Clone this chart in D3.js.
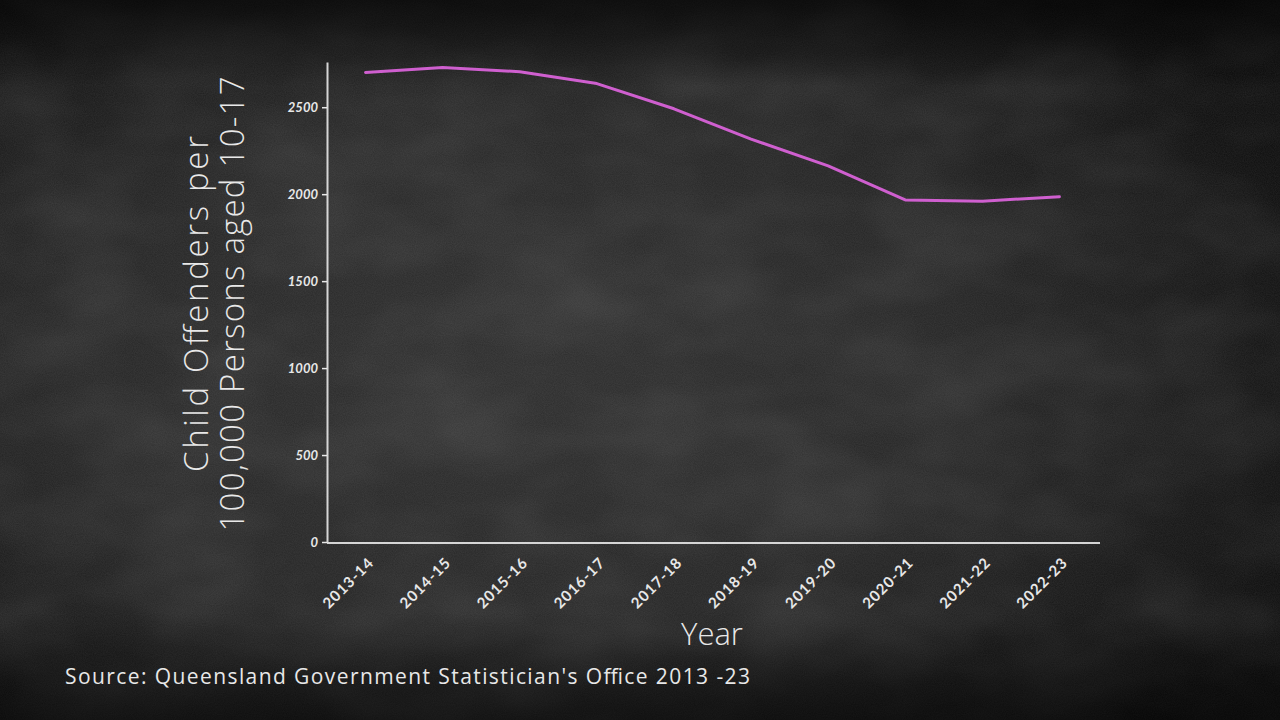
<!DOCTYPE html>
<html><head><meta charset="utf-8">
<script src="https://cdn.jsdelivr.net/npm/d3@7"></script>
<style>html,body{margin:0;padding:0;background:#1b1b1b;}svg{display:block;}</style>
</head><body>
<svg id="c" width="1280" height="720"></svg>
<script>
const years = ["2013-14","2014-15","2015-16","2016-17","2017-18","2018-19","2019-20","2020-21","2021-22","2022-23"];
const offenders = [2700, 2728, 2704, 2636, 2491, 2317, 2163, 1967, 1960, 1985];
const yTicks = [0, 500, 1000, 1500, 2000, 2500];

const svg = d3.select("#c");
const defs = svg.append("defs");
const rg = defs.append("radialGradient").attr("id","bg").attr("cx","40%").attr("cy","52%").attr("r","72%");
rg.append("stop").attr("offset","0%").attr("stop-color","#2f2f2f");
rg.append("stop").attr("offset","50%").attr("stop-color","#262626");
rg.append("stop").attr("offset","100%").attr("stop-color","#0a0a0a");
const lg = defs.append("linearGradient").attr("id","topdark").attr("x1",0).attr("y1",0).attr("x2",0).attr("y2",1);
lg.append("stop").attr("offset","0%").attr("stop-color","#000").attr("stop-opacity",0.6);
lg.append("stop").attr("offset","12%").attr("stop-color","#000").attr("stop-opacity",0);
lg.append("stop").attr("offset","85%").attr("stop-color","#000").attr("stop-opacity",0);
lg.append("stop").attr("offset","100%").attr("stop-color","#000").attr("stop-opacity",0.5);
const f = defs.append("filter").attr("id","noise").attr("x",0).attr("y",0).attr("width","100%").attr("height","100%");
f.append("feTurbulence").attr("type","fractalNoise").attr("baseFrequency","0.9").attr("numOctaves",2).attr("seed",3).attr("result","n");
f.append("feColorMatrix").attr("in","n").attr("type","matrix")
  .attr("values","0 0 0 0 1  0 0 0 0 1  0 0 0 0 1  0 0 0 0.08 0");
const f2 = defs.append("filter").attr("id","smudge").attr("x",0).attr("y",0).attr("width","100%").attr("height","100%");
f2.append("feTurbulence").attr("type","fractalNoise").attr("baseFrequency","0.008 0.015").attr("numOctaves",3).attr("seed",7).attr("result","n");
f2.append("feColorMatrix").attr("in","n").attr("type","matrix")
  .attr("values","0 0 0 0 1  0 0 0 0 1  0 0 0 0 1  0 0 0 0.12 -0.04");

svg.append("rect").attr("width",1280).attr("height",720).attr("fill","url(#bg)");
svg.append("rect").attr("width",1280).attr("height",720).attr("filter","url(#smudge)");
svg.append("rect").attr("width",1280).attr("height",720).attr("filter","url(#noise)");
svg.append("rect").attr("width",1280).attr("height",720).attr("fill","url(#topdark)");

const x = d3.scalePoint().domain(years).range([327, 1098]).padding(0.5);
const y = d3.scaleLinear().domain([0, 2760]).range([542, 62]);

const chalk = "#e8e8e8";
const tickFont = "Lato, 'DejaVu Sans', sans-serif";

// y axis
const ya = svg.append("g").attr("transform","translate(327,0)")
  .call(d3.axisLeft(y).tickValues(yTicks).tickFormat(d3.format("d")).tickSize(5).tickSizeOuter(0).tickPadding(4));
ya.select(".domain").attr("stroke",chalk).attr("stroke-width",2).attr("stroke-opacity",0.9);
ya.selectAll(".tick line").attr("stroke",chalk).attr("stroke-width",1.5);
ya.selectAll(".tick text").attr("fill",chalk).style("font-family",tickFont)
  .style("font-size","13px").style("font-weight","700").style("font-style","italic");

// x axis
const xa = svg.append("g").attr("transform","translate(0,543)")
  .call(d3.axisBottom(x).tickSize(0).tickSizeOuter(0));
xa.select(".domain").attr("stroke",chalk).attr("stroke-width",2).attr("stroke-opacity",0.9)
  .attr("d","M327,0H1100");
xa.selectAll(".tick text").attr("fill",chalk).style("font-family",tickFont)
  .style("font-size","15px").style("font-weight","700").style("letter-spacing","1px")
  .attr("text-anchor","end").attr("x",0).attr("y",0).attr("dy","0.35em")
  .attr("transform","translate(5,17) rotate(-45)");

// line
svg.append("path").datum(offenders)
  .attr("fill","none").attr("stroke","#cf5fcf").attr("stroke-width",3)
  .attr("stroke-linejoin","round").attr("stroke-linecap","round")
  .attr("d", d3.line().x((d,i)=>x(years[i])).y(d=>y(d)));

// y label
const labFont = "'Open Sans', 'DejaVu Sans', sans-serif";
const yl = svg.append("text").attr("transform","translate(208,304) rotate(-90)")
  .attr("text-anchor","middle").attr("fill",chalk)
  .style("font-family",labFont).style("font-size","33px").style("font-weight","300");
yl.append("tspan").attr("x",0).attr("dy",0).attr("textLength",336).attr("lengthAdjust","spacing").text("Child Offenders per");
yl.append("tspan").attr("x",0).attr("dy",36).attr("textLength",455).attr("lengthAdjust","spacing").text("100,000 Persons aged 10-17");

svg.append("text").attr("x",712).attr("y",645).attr("text-anchor","middle")
  .attr("fill",chalk).style("font-family",labFont).style("font-size","31px").style("font-weight","300")
  .text("Year");

svg.append("text").attr("x",65).attr("y",684)
  .attr("fill",chalk).style("font-family",labFont).style("font-size","21px").style("font-weight","400")
  .attr("textLength",685)
  .text("Source: Queensland Government Statistician's Office 2013 -23");
</script>
</body></html>
